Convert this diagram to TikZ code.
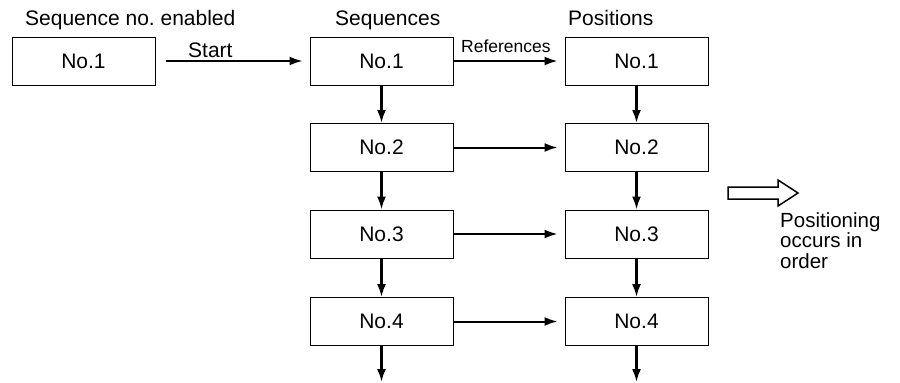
\documentclass[tikz,border=0pt]{standalone}
\usepackage{fontspec}
\setmainfont{Liberation Sans}
\usetikzlibrary{arrows.meta}
\frenchspacing
\begin{document}
\begin{tikzpicture}[x=1pt,y=-1pt,
 box/.style={draw, line width=1pt, minimum width=143pt, minimum height=48pt, inner sep=0pt, font=\fontsize{21}{25}\selectfont},
 lbl/.style={inner sep=0pt, anchor=base west, font=\fontsize{21}{25}\selectfont},
 small/.style={inner sep=0pt, anchor=base west, font=\fontsize{17.5}{20}\selectfont},
 side/.style={inner sep=0pt, anchor=base west, font=\fontsize{20.5}{24}\selectfont},
 arr/.style={-{Latex[length=13pt,width=9pt]}, line width=2.2pt},
]
\useasboundingbox (0,0) rectangle (900,383);
% boxes
\node[box] (e1) at (83.5,61) {No.1};
\node[box] (s1) at (381.5,61) {No.1};
\node[box] (s2) at (381.5,147.5) {No.2};
\node[box] (s3) at (381.5,234) {No.3};
\node[box] (s4) at (381.5,321.5) {No.4};
\node[box] (p1) at (636.5,61) {No.1};
\node[box] (p2) at (636.5,147.5) {No.2};
\node[box] (p3) at (636.5,234) {No.3};
\node[box] (p4) at (636.5,321.5) {No.4};
\coordinate (s5) at (381.5,382);
\coordinate (p5) at (636.5,382);
% labels
\node[lbl] (t1) at (25,25) {Sequence no.\ enabled};
\node[lbl] (t2) at (335,25) {Sequences};
\node[lbl] (t3) at (568,25) {Positions};
\node[lbl] (tstart) at (188,57) {Start};
\node[small] (tref) at (461,52) {References};
\node[side] (o1) at (780,227) {Positioning};
\node[side] (o2) at (780,247.5) {occurs in};
\node[side] (o3) at (780,268) {order};
% arrows
\draw[arr, line width=1.7pt, shorten <=10pt, shorten >=7pt] (e1) -- (s1);
\foreach \i in {1,...,4}{
  \draw[arr, line width=2pt, shorten >=7pt] (s\i) -- (p\i);
}
\foreach \i/\j in {1/2,2/3,3/4,4/5}{
  \draw[arr] (s\i) -- (s\j);
  \draw[arr] (p\i) -- (p\j);
}
% hollow arrow
\draw[line width=1.5pt, line join=miter] (728,187) -- (778,187) -- (778,180) -- (798,193) -- (778,206) -- (778,199) -- (728,199) -- cycle;
\end{tikzpicture}
\end{document}
